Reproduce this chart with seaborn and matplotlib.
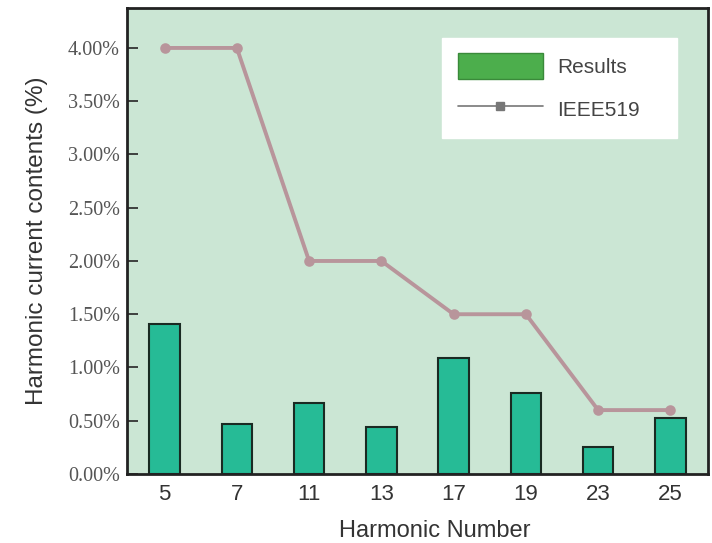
import matplotlib
matplotlib.use("Agg")
import matplotlib.pyplot as plt
import seaborn as sns
import pandas as pd
from matplotlib.patches import Patch
from matplotlib.lines import Line2D
from matplotlib.ticker import PercentFormatter

harmonics = ["5", "7", "11", "13", "17", "19", "23", "25"]
results = [1.41, 0.47, 0.67, 0.44, 1.09, 0.76, 0.25, 0.53]
ieee519 = [4.0, 4.0, 2.0, 2.0, 1.5, 1.5, 0.6, 0.6]

df = pd.DataFrame({"harmonic": harmonics, "results": results, "ieee": ieee519})

sns.set_style("ticks")
fig = plt.figure(figsize=(7.12, 5.43), dpi=100)
ax = fig.add_axes([127 / 712, 1 - 474 / 543, 581 / 712, 466 / 543])
ax.set_facecolor("#cbe6d4")

sns.barplot(data=df, x="harmonic", y="results", color="#26bb96", saturation=1,
            width=0.42, edgecolor="#1a2a22", linewidth=1.5, ax=ax)
sns.pointplot(data=df, x="harmonic", y="ieee", color="#b8959b", markers="o",
              linewidth=2.8, markersize=5.5, ax=ax)

ax.set_xlim(-0.52, 7.52)
ax.set_ylim(0, 4.375)
ax.set_yticks([0, 0.5, 1, 1.5, 2, 2.5, 3, 3.5, 4])
ax.yaxis.set_major_formatter(PercentFormatter(xmax=100, decimals=2))
ax.tick_params(axis="y", direction="in", length=8, width=1.3, colors="#333333",
               labelsize=14.5, pad=5)
ax.tick_params(axis="x", length=0, labelsize=16, colors="#333333", pad=7)
for lab in ax.get_yticklabels():
    lab.set_family("Liberation Serif")
    lab.set_color("#555555")
for lab in ax.get_xticklabels():
    lab.set_family("Liberation Sans")

for s in ax.spines.values():
    s.set_linewidth(2)
    s.set_color("#222222")

ax.set_xlabel("Harmonic Number", fontsize=17, family="Liberation Sans",
              color="#333333")
ax.set_ylabel("Harmonic current contents (%)", fontsize=17.5, family="Liberation Sans",
              color="#333333")
ax.xaxis.set_label_coords(0.53, -0.099)
ax.yaxis.set_label_coords(-0.136, 0.5)

handles = [
    Patch(facecolor="#4cae4c", edgecolor="#3a8a3a", label="Results"),
    Line2D([0], [0], color="#777777", lw=1.2, marker="s", markersize=6,
           label="IEEE519"),
]
leg = ax.legend(handles=handles, loc="upper left", mode="expand",
                bbox_to_anchor=(0.542, 0.70, 0.404, 0.236), borderaxespad=0,
                frameon=True, fancybox=False, framealpha=1, edgecolor="white",
                prop={"family": "Liberation Sans", "size": 15}, handlelength=4.1,
                handleheight=1.5, borderpad=0.75, labelspacing=0.85, handletextpad=0.7)
for t in leg.get_texts():
    t.set_color("#444444")

fig.savefig("out.png", dpi=100)
